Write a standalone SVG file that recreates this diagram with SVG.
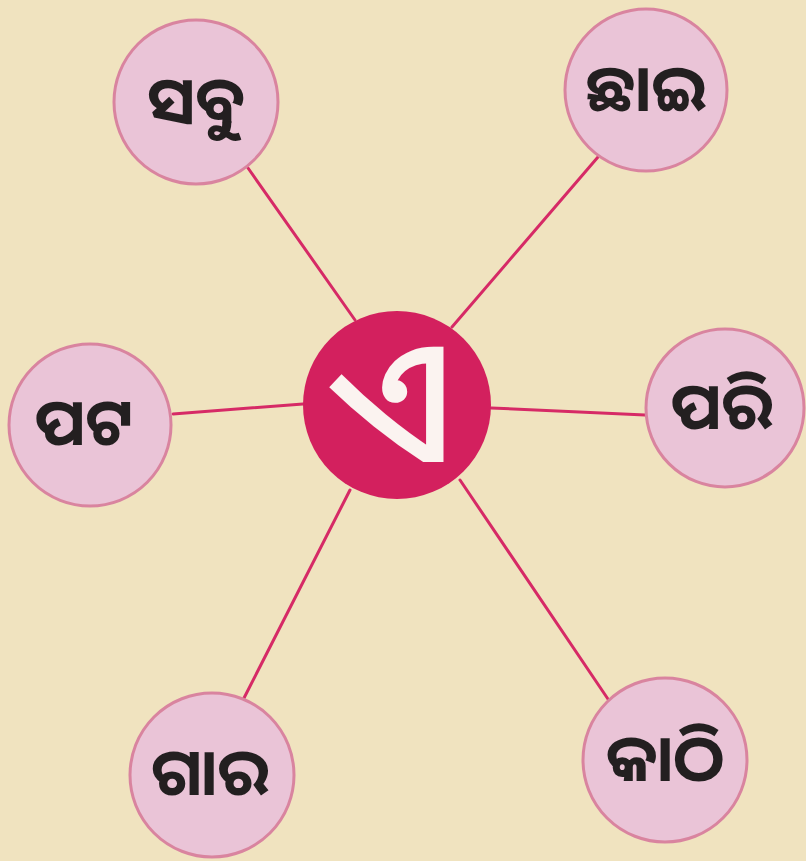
<svg xmlns="http://www.w3.org/2000/svg" width="806" height="861" viewBox="0 0 806 861">
<style>
.node circle{fill:#eac4d7;stroke:#d9849f;stroke-width:3}
.node text{font-family:"Noto Sans Oriya","Lohit Odia","Noto Sans",sans-serif;font-weight:bold;font-size:65px;fill:#231f20;text-anchor:middle;dominant-baseline:central}
.conn line{stroke:#d62a66;stroke-width:3;stroke-linecap:round}
</style>
<rect width="806" height="861" fill="#f0e3bf"/>
<g id="connectors" class="conn">
<line x1="248" y1="168" x2="355" y2="320"/>
<line x1="598" y1="157" x2="452" y2="327"/>
<line x1="173" y1="414" x2="303" y2="404"/>
<line x1="491" y1="408" x2="645" y2="415"/>
<line x1="243" y1="700" x2="350" y2="490"/>
<line x1="460" y1="480" x2="612" y2="705"/>
</g>
<g id="n-sabu" class="node"><circle cx="196" cy="102" r="82"/><text x="196" y="98">ସବୁ</text></g>
<g id="n-chhai" class="node"><circle cx="646" cy="90" r="81"/><text x="646" y="86">ଛାଇ</text></g>
<g id="n-pata" class="node"><circle cx="90" cy="425" r="81"/><text x="84" y="420">ପଟ</text></g>
<g id="n-pari" class="node"><circle cx="725" cy="408" r="79"/><text x="722" y="404">ପରି</text></g>
<g id="n-gara" class="node"><circle cx="212" cy="775" r="82"/><text x="210" y="770">ଗାର</text></g>
<g id="n-kathi" class="node"><circle cx="665" cy="760" r="82"/><text x="665" y="756">କାଠି</text></g>
<g id="n-center"><circle cx="397" cy="405" r="94" fill="#d3205e"/><text x="392" y="394" style="font-family:'Noto Sans Oriya','Lohit Odia','Noto Sans',sans-serif;font-weight:500;font-size:175px;fill:#fbf3f0;text-anchor:middle;dominant-baseline:central">ଏ</text></g>
</svg>
